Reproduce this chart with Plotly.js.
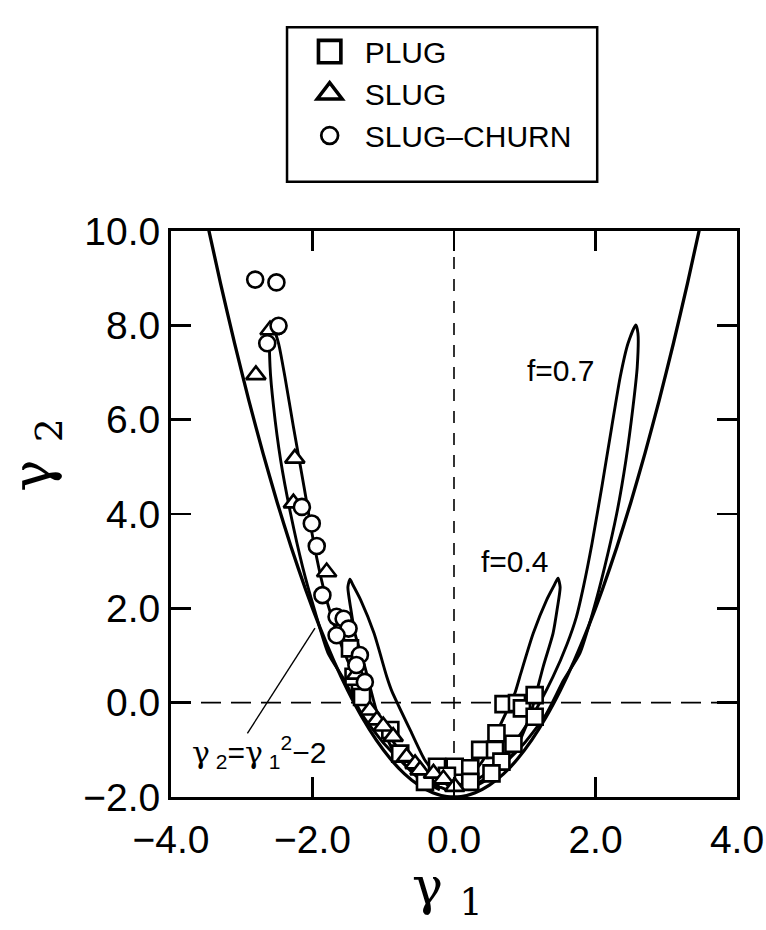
<!DOCTYPE html>
<html>
<head>
<meta charset="utf-8">
<script src="https://cdn.plot.ly/plotly-3.0.1.min.js"></script>
<style>
html,body{margin:0;padding:0;background:#fff;}
#chart{width:766px;height:930px;}
</style>
</head>
<body>
<div id="chart"></div>
<script>
// ---- boundary curve gamma2 = gamma1^2 - 2 (values read along the drawn parabola)
const parabX = [-3.5,-3.3,-3.1,-2.9,-2.7,-2.5,-2.3,-2.1,-1.9,-1.7,-1.5,-1.3,-1.1,-0.9,-0.7,-0.5,-0.3,-0.1,0.1,0.3,0.5,0.7,0.9,1.1,1.3,1.5,1.7,1.9,2.1,2.3,2.5,2.7,2.9,3.1,3.3,3.5];
const parabY = [10.25,8.89,7.61,6.41,5.29,4.25,3.29,2.41,1.61,0.89,0.25,-0.31,-0.79,-1.19,-1.51,-1.75,-1.91,-1.99,-1.99,-1.91,-1.75,-1.51,-1.19,-0.79,-0.31,0.25,0.89,1.61,2.41,3.29,4.25,5.29,6.41,7.61,8.89,10.25];

// ---- f = 0.7 loop, right side
const f07RightX = [0.2,0.5,0.8,1.1,1.4,1.6,1.73,1.83,1.95,2.09,2.23,2.35,2.46,2.57,2.60,2.59,2.53,2.43,2.30,2.13,1.97,1.78,1.55,1.3,1.0,0.7,0.4,0.1];
const f07RightY = [-1.75,-1.45,-0.95,-0.3,0.55,1.25,1.82,2.46,3.37,4.58,5.85,6.91,7.62,8.01,7.83,7.12,6.27,5.14,4.01,2.88,1.96,1.05,0.48,-0.25,-0.85,-1.3,-1.65,-1.85];
// ---- f = 0.4 loop, right side
const f04RightX = [0.05,0.2,0.41,0.6,0.86,0.93,1.12,1.31,1.42,1.47,1.50,1.46,1.40,1.26,1.07,0.84,0.5,0.2];
const f04RightY = [-1.8,-1.6,-1.22,-0.64,0.20,0.55,1.47,2.18,2.5,2.64,2.45,2.0,1.47,0.76,-0.30,-1.07,-1.6,-1.85];
// ---- f = 0.7 loop, left side
const f07LeftX = [-0.2,-0.5,-0.8,-1.1,-1.4,-1.6,-1.73,-1.85,-1.98,-2.12,-2.27,-2.39,-2.48,-2.56,-2.60,-2.60,-2.55,-2.45,-2.31,-2.14,-1.97,-1.78,-1.55,-1.3,-1.0,-0.7,-0.4,-0.1];
const f07LeftY = [-1.75,-1.45,-0.95,-0.3,0.55,1.25,1.82,2.46,3.37,4.58,5.85,6.91,7.62,7.96,7.83,7.12,6.27,5.14,4.01,2.88,1.96,1.05,0.48,-0.25,-0.85,-1.3,-1.65,-1.85];
// ---- f = 0.4 loop, left side
const f04LeftX = [-0.05,-0.2,-0.41,-0.6,-0.88,-0.95,-1.13,-1.32,-1.43,-1.47,-1.50,-1.46,-1.40,-1.26,-1.07,-0.84,-0.5,-0.2];
const f04LeftY = [-1.8,-1.6,-1.22,-0.64,0.25,0.55,1.47,2.18,2.5,2.62,2.45,2.0,1.47,0.76,-0.30,-1.07,-1.6,-1.85];

// ---- measured points
const plugX = [-1.47,-1.33,-1.42,-1.30,-0.90,-0.76,-0.24,0.01,0.23,0.23,-0.41,-0.10,0.37,0.58,0.60,0.84,0.67,0.53,0.70,0.89,0.96,1.14,1.14];
const plugY = [1.15,0.31,0.55,0.12,-0.58,-1.08,-1.36,-1.36,-1.39,-1.68,-1.68,-1.55,-1.00,-1.00,-0.65,-0.87,-1.25,-1.50,-0.03,-0.01,-0.12,0.16,-0.30];
const slugX = [-2.80,-2.60,-2.25,-2.27,-1.80,-1.38,-1.19,-1.09,-1.00,-0.86,-0.67,-0.55,-0.48,-0.29,-0.15,0.01];
const slugY = [6.95,7.90,5.18,4.23,2.77,0.60,-0.16,-0.37,-0.50,-0.72,-1.15,-1.30,-1.43,-1.50,-1.62,-1.78];
const churnX = [-2.81,-2.51,-2.48,-2.64,-2.15,-2.01,-1.94,-1.86,-1.66,-1.56,-1.49,-1.66,-1.33,-1.38,-1.26];
const churnY = [8.97,8.91,7.99,7.62,4.15,3.80,3.32,2.28,1.82,1.78,1.57,1.43,1.01,0.80,0.44];

const seriesNames = ["\u2002PLUG", "\u2002SLUG", "\u2002SLUG\u2013CHURN"];

const sans = "Liberation Sans, Arial, sans-serif";
const greek = "DejaVu Serif, serif";

function curve(x, y, w) {
  return {x: x, y: y, type: "scatter", mode: "lines", showlegend: false, hoverinfo: "skip",
          line: {color: "#000", width: w || 2.9, shape: "spline", smoothing: 0.6}};
}
const mk = (sym, size) => ({symbol: sym, size: size, color: "#fff", line: {color: "#000", width: 2.6}});

const traces = [
  curve(parabX, parabY, 3.3),
  curve(f07RightX, f07RightY),
  curve(f04RightX, f04RightY),
  curve(f07LeftX, f07LeftY),
  curve(f04LeftX, f04LeftY),
  {x: plugX, y: plugY, type: "scatter", mode: "markers", name: seriesNames[0], marker: mk("square", 16)},
  {x: slugX, y: slugY, type: "scatter", mode: "markers", name: seriesNames[1], marker: mk("triangle-up", 17)},
  {x: churnX, y: churnY, type: "scatter", mode: "markers", name: seriesNames[2], marker: mk("circle", 16)}
];

const tickFont = {family: sans, size: 39, color: "#000"};
const layout = {
  width: 766, height: 930,
  margin: {l: 171, r: 29, t: 231, b: 133, pad: 0},
  paper_bgcolor: "#fff", plot_bgcolor: "#fff",
  showlegend: true,
  legend: {x: 0.245, y: 1.363, xanchor: "left", yanchor: "top", bgcolor: "rgba(0,0,0,0)",
           borderwidth: 0, font: {family: sans, size: 30, color: "#000"},
           tracegroupgap: 0, itemclick: false},
  xaxis: {range: [-4, 4], dtick: 2, tick0: -4, tickformat: ".1f", ticks: "inside", ticklen: 20, tickwidth: 2.5,
          tickcolor: "#000", showline: true, linecolor: "#000", linewidth: 3, mirror: "ticks",
          showgrid: false, zeroline: false, tickfont: tickFont, ticklabelstandoff: 6},
  yaxis: {range: [-2, 10], dtick: 2, tick0: -2, tickformat: ".1f", ticks: "inside", ticklen: 20, tickwidth: 2.5,
          tickcolor: "#000", showline: true, linecolor: "#000", linewidth: 3, mirror: "ticks",
          showgrid: false, zeroline: false, tickfont: tickFont, ticklabelstandoff: 0},
  shapes: [
    {type: "line", xref: "x", yref: "paper", x0: 0, x1: 0, y0: 0, y1: 1, line: {color: "#000", width: 1.6, dash: "12px,10px"}, layer: "below"},
    {type: "line", xref: "paper", yref: "y", x0: 0, x1: 1, y0: 0, y1: 0, line: {color: "#000", width: 1.6, dash: "20px,10px"}, layer: "below"},
    {type: "line", xref: "x", yref: "y", x0: -2.92, y0: -0.65, x1: -1.965, y1: 1.58, line: {color: "#000", width: 1.4}},
    {type: "rect", xref: "paper", yref: "paper", x0: 0.205, x1: 0.753, y0: 1.087, y1: 1.36, line: {color: "#000", width: 2.5}, fillcolor: "rgba(0,0,0,0)"}
  ],
  annotations: [
    // axis titles
    {xref: "paper", yref: "paper", x: 0.488, y: -0.165, xanchor: "center", yanchor: "middle",
     text: "\u03b3 <sub>1</sub>", showarrow: false, font: {family: greek, size: 52, color: "#000"}},
    {xref: "paper", yref: "paper", x: -0.24, y: 0.605, xanchor: "center", yanchor: "middle",
     text: "\u03b3 <sub>2</sub>", showarrow: false, textangle: -90, font: {family: greek, size: 54, color: "#000"}},
    {xref: "x", yref: "y", x: 1.51, y: 7.05, text: "f=0.7", showarrow: false,
     font: {family: sans, size: 30, color: "#000"}},
    {xref: "x", yref: "y", x: 0.86, y: 3.0, text: "f=0.4", showarrow: false,
     font: {family: sans, size: 30, color: "#000"}},
    {xref: "x", yref: "y", x: -3.73, y: -1.05, xanchor: "left",
     text: "<span style=\"font-family:'DejaVu Serif'\">\u03b3</span><sub> 2</sub>=<span style=\"font-family:'DejaVu Serif'\">\u03b3</span><sub> 1</sub><sup>2</sup>\u22122",
     showarrow: false, font: {family: sans, size: 30, color: "#000"}}
  ]
};

Plotly.newPlot("chart", traces, layout, {staticPlot: true, displayModeBar: false}).then(function (gd) {
  // enlarge the legend symbols of the square and triangle entries (they are drawn larger in the legend)
  const scales = [1.4, 1.35, 1.05];
  const items = gd.querySelectorAll(".legend .traces");
  items.forEach(function (item, i) {
    item.querySelectorAll(".legendpoints path").forEach(function (p) {
      const t = p.getAttribute("transform") || "";
      p.setAttribute("transform", t + " scale(" + (scales[i] || 1) + ")");
    });
  });
});
</script>
</body>
</html>
